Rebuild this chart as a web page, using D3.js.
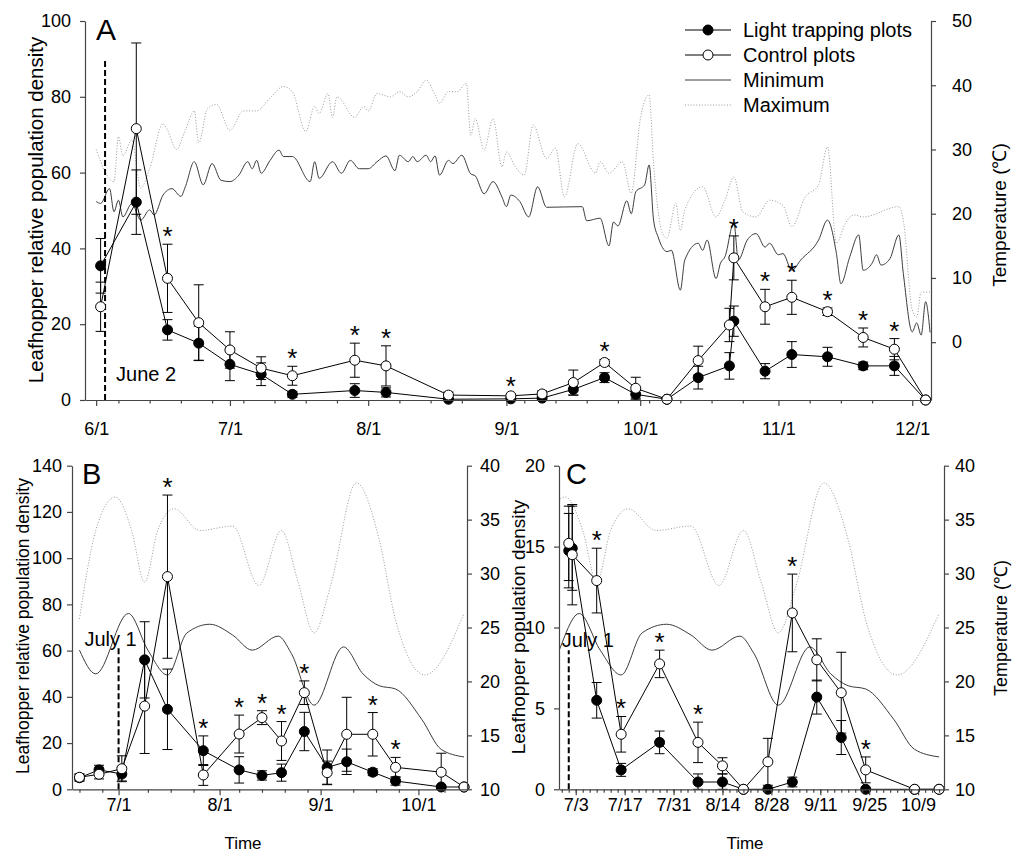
<!DOCTYPE html>
<html>
<head>
<meta charset="utf-8">
<script src="https://cdn.jsdelivr.net/npm/d3@7"></script>
<style>
  body { margin: 0; background: #fff; }
  svg text { font-family: "Liberation Sans", Arial, sans-serif; fill: #000; }
</style>
</head>
<body>
<svg id="chart" width="1019" height="852"></svg>
<script>
//*** Données panneau A (saison complète) ***************************************************/
const datesA = ["6/2","6/10","6/17","6/24","7/1","7/8","7/15","7/29","8/5","8/19","9/2","9/9","9/16",
  "9/23","9/30","10/7","10/14","10/21","10/22","10/29","11/4","11/12","11/20","11/27","12/4"];
const lightA = [35.4,52.2,18.5,15.0,9.4,6.8,1.5,2.5,2.0,0.2,0.3,0.5,2.8,5.9,1.5,0.2,5.9,9.0,20.8,7.6,12.0,11.4,9.0,9.0,0];
const lightErrA = [7.2,8.5,2.7,4.5,4.3,3.0,0.8,1.8,1.2,0.2,0.3,0.3,1.5,1.3,1.0,0,3.0,3.5,4.0,2.0,3.4,2.5,1.0,2.5,0];
const controlA = [24.6,71.6,32.1,20.4,13.2,8.4,6.4,10.5,9.0,1.3,1.1,1.6,4.6,9.9,3.1,0.2,10.4,19.8,37.5,24.6,27.1,23.3,16.5,13.4,0];
const controlErrA = [6.5,22.6,9.0,10.0,4.8,3.0,2.5,4.5,5.3,0.8,0.5,0.8,3.3,0.8,2.9,0,3.8,4.4,5.8,4.6,4.5,1.0,2.5,2.8,0];
const starsA = [0,0,1,0,0,0,1,1,1,0,1,0,0,1,0,0,0,0,1,1,1,1,1,1,0];

// températures journalières A
const maxDatesA = ["6/1","6/5","6/6","6/7","6/9","6/11","6/13","6/16","6/17","6/19","6/21","6/23","6/24","6/26","6/28",
  "7/1","7/4","7/7","7/10","7/13","7/15","7/18","7/20","7/21","7/23","7/24","7/25","7/29","7/31",
  "8/1","8/3","8/6","8/8","8/10","8/12","8/14","8/16","8/17","8/19","8/21","8/23","8/24","8/25","8/27","8/29","8/31",
  "9/1","9/3","9/5","9/7","9/10","9/12","9/14","9/17","9/21","9/22","9/24","9/27","9/29",
  "10/1","10/3","10/4","10/6","10/7","10/9","10/10","10/11","10/15","10/18","10/20","10/22","10/24","10/27","10/30",
  "11/2","11/4","11/7","11/10","11/12","11/14","11/16","11/18","11/20","11/23","11/25","11/28","11/29",
  "12/1","12/2","12/3","12/5"];
const maxTempA = [30,25,32,29,31.5,24,27,34,33,30,33,36,31,36.4,37,
  33,36,36,38,39.8,39,32.8,36.7,35.6,38.7,35,38.2,35,36.7,
  36,38.7,38.2,39,38.2,39,40.8,38.5,37.2,39,39,40.3,32.2,34.8,29.9,34.8,27.3,
  29.6,27.3,26.0,33.8,28.6,30.2,22.6,30.9,26.3,28.1,26.3,28.1,23.2,
  34.6,38.5,27.8,16.9,16.2,21.6,17.4,20.6,24.2,19.5,22.1,25.7,20.3,19.5,22.1,
  21.3,18.0,22.6,24.5,30.4,15.4,18.5,19.8,19.5,20.0,20.6,21.1,19.0,
  5.0,3.9,7.8,7.8];
const minDatesA = ["6/1","6/2","6/4","6/5","6/6","6/7","6/9","6/11","6/13","6/14","6/16","6/18","6/20","6/21","6/23","6/25","6/27","6/29",
  "7/1","7/3","7/5","7/6","7/7","7/8","7/10","7/12","7/13","7/15","7/19","7/20","7/21","7/24","7/26","7/28","7/30",
  "8/1","8/3","8/5","8/7","8/8","8/10","8/11","8/12","8/14","8/15","8/16","8/17","8/19","8/20","8/22","8/24","8/25","8/27","8/29","8/31",
  "9/1","9/2","9/4","9/6","9/8","9/10","9/18","9/19","9/22","9/24","9/25","9/26","9/28","9/29","9/30",
  "10/2","10/3","10/4","10/5","10/7","10/8","10/10","10/11","10/14","10/15","10/16","10/18","10/19","10/20","10/22","10/23","10/25","10/27","10/29","10/30",
  "11/1","11/2","11/4","11/6","11/10","11/12","11/14","11/15","11/17","11/19","11/20","11/22","11/23","11/24","11/26","11/28","11/29",
  "12/1","12/2","12/3","12/4","12/5"];
const minTempA = [21.9,21.6,23.9,20.3,22.1,19.5,21.6,19.0,20.6,19.8,22.9,23.9,22.7,24.2,28.1,24.5,27.8,25.2,
  25.0,26.0,28.1,27.0,28.3,26.3,28.3,29.9,28.9,28.9,25.0,28.1,25.5,28.1,26.3,28.3,27.0,
  27.0,28.1,29.0,26.7,29.1,28.1,28.9,28.1,29.1,28.1,29.0,26.0,28.3,27.8,29.1,26.2,25.9,23.1,25.0,22.6,
  21.1,22.9,21.9,19.5,24.2,21.0,21.1,18.9,19.3,15.0,18.7,18.1,22.0,20.0,23.4,
  24.5,27.6,19.0,16.4,14.1,14.3,8.1,12.8,15.4,14.3,15.9,9.9,12.3,13.3,18.6,12.8,15.9,16.9,14.8,15.4,
  13.6,13.8,11.2,12.8,15.9,19.0,13.8,9.1,13.3,16.7,11.2,12.3,13.6,12.0,13.0,16.7,10.7,
  1.6,3.0,1.1,6.3,1.5];

const majorTicksA = ["6/1","7/1","8/1","9/1","10/1","11/1","12/1"];
const minorTicksA = ["6/6","6/13","6/20","6/27","7/4","7/11","7/18","7/25","8/8","8/15","8/22","9/5","9/12","9/19",
  "9/26","10/3","10/10","10/17","10/24","11/8","11/15","11/22"];

//*** Données panneau B ***********************************************************************/
const datesB = ["6/19","6/25","7/2","7/9","7/16","7/27","8/7","8/14","8/20","8/27","9/3","9/9","9/17","9/24","10/8","10/15"];
const lightB = [5.0,8.4,6.6,56,34.6,16.7,8.4,6.0,7.2,25,9.5,11.9,7.4,3.6,1.0,1.0];
const lightErrB = [1.5,2,3,16.5,17.4,6.4,5.7,2,3.7,8.3,7.5,5.5,1.5,1.8,0.5,0.3];
const controlB = [5.2,6.5,8.9,36,92,6.2,23.9,31,20.9,41.8,7.2,23.8,23.8,9.5,7.4,1.0];
const controlErrB = [1.5,2,5.6,20.5,35.3,4.5,8.2,3,8.4,5.1,5,16,9.4,4.3,8.2,0.3];
const starsB = [0,0,0,0,1,1,1,1,1,1,0,0,1,1,0,0];
const majorTicksB = ["7/1","8/1","9/1","10/1"];
const minorTicksB = ["6/19","6/26","7/10","7/17","7/24","8/7","8/14","8/21","8/28","9/11","9/18","9/25","10/9"];

//*** Données panneau C ***********************************************************************/
const datesC = ["7/1","7/2","7/9","7/16","7/27","8/7","8/14","8/20","8/27","9/3","9/10","9/17","9/24","10/8","10/15"];
const lightC = [14.75,14.9,5.5,1.2,2.9,0.45,0.45,0,0,0.45,5.7,3.2,0,0,0];
const lightErrC = [2.3,2.6,1.1,0.4,0.7,0.5,0.5,0,0,0.3,1.05,1.05,0,0,0];
const controlC = [15.2,14.5,12.9,3.4,7.75,2.9,1.45,0,1.7,10.9,8.0,5.97,1.2,0,0];
const controlErrC = [2.3,3.1,2.0,1.1,0.85,1.25,0.5,0,1.45,2.4,1.3,2.5,0.8,0,0];
const starsC = [0,0,1,1,1,1,0,0,0,1,0,0,1,0,0];
const majorTicksC = ["7/3","7/17","7/31","8/14","8/28","9/11","9/25","10/9"];

// températures été (B et C, même station)
const maxDatesS = ["6/19","6/24","6/30","7/5","7/9","7/13","7/18","7/26","8/5","8/13","8/20","8/25","8/30","9/4","9/12","9/19","9/24","10/3","10/15"];
const maxTempS = [25.8,34.0,37.1,34.0,29.2,34.0,36.0,34.0,34.4,28.9,34.0,29.3,24.5,28.8,38.4,33.1,25.7,20.6,26.3];
const minDatesS = ["6/19","6/24","7/4","7/10","7/16","7/22","7/29","8/5","8/11","8/19","8/23","8/30","9/8","9/14","9/19","9/24","10/2","10/8","10/15"];
const minTempS = [22.9,20.7,26.3,22.9,20.6,24.5,25.3,24.3,22.9,24.2,22.6,17.8,23.2,20.7,19.6,19.3,16.5,13.7,13.0];

//*** Outils **********************************************************************************/
const parseDay = (s) => d3.timeParse("%Y/%m/%d")("2013/" + s);
const fmt = d3.timeFormat("%-m/%-d");
const svg = d3.select("#chart");

function styleAxe(sel, size) {
  sel.select(".domain").attr("stroke", "#454545").attr("stroke-width", 1.2);
  sel.selectAll(".tick line").attr("stroke", "#454545").attr("stroke-width", 1.2);
  sel.selectAll("text").attr("font-size", size).attr("font-family", "'Liberation Sans', Arial, sans-serif").attr("fill", "#000");
}

function panneau(p) {
  const g = svg.append("g");
  const x = d3.scaleTime().domain(p.xDomain).range([p.left, p.right]);
  const y = d3.scaleLinear().domain(p.yDomain).range([p.bottom, p.top]);
  const yT = d3.scaleLinear().domain(p.tDomain).range([p.bottom, p.top]);

  g.append("clipPath").attr("id", "clip" + p.nom)
    .append("rect")
    .attr("x", p.left).attr("y", p.top)
    .attr("width", p.right - p.left).attr("height", p.bottom - p.top);

  // températures
  const ligneT = d3.line().x((d) => x(d[0])).y((d) => yT(d[1])).curve(p.courbe);
  g.append("path")
    .datum(d3.zip(p.maxDates.map(parseDay), p.maxTemp))
    .attr("clip-path", `url(#clip${p.nom})`)
    .attr("d", ligneT)
    .attr("fill", "none").attr("stroke", "#999").attr("stroke-width", 1)
    .attr("stroke-dasharray", "1,1.8");
  g.append("path")
    .datum(d3.zip(p.minDates.map(parseDay), p.minTemp))
    .attr("clip-path", `url(#clip${p.nom})`)
    .attr("d", ligneT)
    .attr("fill", "none").attr("stroke", "#3c3c3c").attr("stroke-width", 1);

  // ligne verticale pointillée (début du piégeage)
  const xt = x(parseDay(p.tirets));
  g.append("line")
    .attr("x1", xt).attr("x2", xt)
    .attr("y1", y(0)).attr("y2", y(p.tiretsHaut))
    .attr("stroke", "#000").attr("stroke-width", 2).attr("stroke-dasharray", "6,3");
  g.append("text")
    .attr("x", xt + p.labelDx).attr("y", y(p.labelY))
    .attr("text-anchor", p.labelAnchor)
    .attr("font-size", 20)
    .text(p.label);

  const pts = p.dates.map((d, i) => ({
    date: parseDay(d),
    l: p.light[i], le: p.lightErr[i],
    c: p.control[i], ce: p.controlErr[i],
    star: p.stars[i],
  }));

  // barres d'erreur
  [["l", "le"], ["c", "ce"]].forEach(([k, ke]) => {
    const eb = g.append("g").selectAll("g")
      .data(pts.filter((d) => d[ke] > 0))
      .join("g")
      .attr("stroke", "#000").attr("stroke-width", 1);
    eb.append("line")
      .attr("x1", (d) => x(d.date)).attr("x2", (d) => x(d.date))
      .attr("y1", (d) => y(Math.max(0, d[k] - d[ke]))).attr("y2", (d) => y(d[k] + d[ke]));
    eb.append("line")
      .attr("x1", (d) => x(d.date) - 5).attr("x2", (d) => x(d.date) + 5)
      .attr("y1", (d) => y(d[k] + d[ke])).attr("y2", (d) => y(d[k] + d[ke]));
    eb.append("line")
      .attr("x1", (d) => x(d.date) - 5).attr("x2", (d) => x(d.date) + 5)
      .attr("y1", (d) => y(Math.max(0, d[k] - d[ke]))).attr("y2", (d) => y(Math.max(0, d[k] - d[ke])));
  });

  // lignes des deux séries
  ["l", "c"].forEach((k) => {
    g.append("path")
      .datum(pts)
      .attr("d", d3.line().x((d) => x(d.date)).y((d) => y(d[k])))
      .attr("fill", "none").attr("stroke", "#000").attr("stroke-width", 1);
  });

  // points
  g.append("g").selectAll("circle").data(pts).join("circle")
    .attr("cx", (d) => x(d.date)).attr("cy", (d) => y(d.l)).attr("r", 5)
    .attr("fill", "#000").attr("stroke", "#000");
  g.append("g").selectAll("circle").data(pts).join("circle")
    .attr("cx", (d) => x(d.date)).attr("cy", (d) => y(d.c)).attr("r", 5)
    .attr("fill", "#fff").attr("stroke", "#000").attr("stroke-width", 1);

  // étoiles de significativité
  g.append("g").selectAll("text").data(pts.filter((d) => d.star)).join("text")
    .attr("x", (d) => x(d.date))
    .attr("y", (d) => y(Math.max(d.l + d.le, d.c + d.ce)) + 1)
    .attr("text-anchor", "middle")
    .attr("font-size", 26)
    .text("*");

  // axes
  const axeX = g.append("g").attr("transform", `translate(0,${p.bottom})`)
    .call(d3.axisBottom(x).tickValues(p.majors.map(parseDay)).tickFormat(fmt)
      .tickSize(6).tickSizeOuter(0).tickPadding(p.xPad));
  styleAxe(axeX, 18);
  const axeMin = g.append("g").attr("transform", `translate(0,${p.bottom})`)
    .call(d3.axisBottom(x).tickValues(p.minors).tickFormat("").tickSize(3.5));
  axeMin.select(".domain").remove();
  styleAxe(axeMin, 18);

  const axeY = g.append("g").attr("transform", `translate(${p.left},0)`)
    .call(d3.axisLeft(y).tickValues(p.yTicks).tickSize(5).tickSizeOuter(0).tickPadding(p.yPad));
  styleAxe(axeY, 18);
  const axeT = g.append("g").attr("transform", `translate(${p.right},0)`)
    .call(d3.axisRight(yT).tickValues(p.tTicks).tickSize(5).tickSizeOuter(0).tickPadding(p.tPad));
  styleAxe(axeT, 18);

  // lettre du panneau
  g.append("text").attr("x", p.left + p.lettreDx).attr("y", p.top + p.lettreDy)
    .attr("font-size", p.lettreSize).text(p.nom);

  return { x, y, yT };
}

//*** Panneau A ******************************************************************************/
panneau({
  nom: "A", left: 85, right: 931, top: 21, bottom: 400,
  xDomain: [new Date(2013, 4, 29, 12), new Date(2013, 11, 5, 5)],
  yDomain: [0, 100], tDomain: [-9, 50],
  yTicks: d3.range(0, 101, 20), tTicks: d3.range(0, 51, 10),
  majors: majorTicksA, minors: minorTicksA.map(parseDay),
  xPad: 16, yPad: 9, tPad: 16,
  courbe: d3.curveMonotoneX,
  maxDates: maxDatesA, maxTemp: maxTempA, minDates: minDatesA, minTemp: minTempA,
  dates: datesA, light: lightA, lightErr: lightErrA, control: controlA, controlErr: controlErrA, stars: starsA,
  tirets: "6/3", tiretsHaut: 90, label: "June 2", labelDx: 11, labelY: 5, labelAnchor: "start",
  lettreDx: 11, lettreDy: 19, lettreSize: 30,
});

//*** Panneau B ******************************************************************************/
panneau({
  nom: "B", left: 72, right: 467, top: 465.7, bottom: 789.3,
  xDomain: [new Date(2013, 5, 16, 17), new Date(2013, 9, 15, 22)],
  yDomain: [0, 140], tDomain: [10, 40],
  yTicks: d3.range(0, 141, 20), tTicks: d3.range(10, 41, 5),
  majors: majorTicksB, minors: minorTicksB.map(parseDay),
  xPad: 3, yPad: 5, tPad: 8,
  courbe: d3.curveMonotoneX,
  maxDates: maxDatesS, maxTemp: maxTempS, minDates: minDatesS, minTemp: minTempS,
  dates: datesB, light: lightB, lightErr: lightErrB, control: controlB, controlErr: controlErrB, stars: starsB,
  tirets: "7/1", tiretsHaut: 61, label: "July 1", labelDx: -8, labelY: 62, labelAnchor: "middle",
  lettreDx: 10, lettreDy: 18, lettreSize: 29,
});

//*** Panneau C ******************************************************************************/
const startC = new Date(2013, 5, 28, 5), endC = new Date(2013, 9, 16, 10);
panneau({
  nom: "C", left: 559, right: 944, top: 465.7, bottom: 789.3,
  xDomain: [startC, endC],
  yDomain: [0, 20], tDomain: [10, 40],
  yTicks: d3.range(0, 21, 5), tTicks: d3.range(10, 41, 5),
  majors: majorTicksC, minors: d3.timeDay.range(parseDay("6/29"), endC, 2),
  xPad: 3, yPad: 9, tPad: 6,
  courbe: d3.curveMonotoneX,
  maxDates: maxDatesS, maxTemp: maxTempS, minDates: minDatesS, minTemp: minTempS,
  dates: datesC, light: lightC, lightErr: lightErrC, control: controlC, controlErr: controlErrC, stars: starsC,
  tirets: "7/1", tiretsHaut: 8.6, label: "July 1", labelDx: 19, labelY: 8.8, labelAnchor: "middle",
  lettreDx: 7, lettreDy: 18, lettreSize: 29,
});

//*** Titres des axes ************************************************************************/
const titre = (txt, x, y, size) =>
  svg.append("text")
    .attr("transform", `translate(${x},${y}) rotate(-90)`)
    .attr("text-anchor", "middle").attr("dominant-baseline", "central")
    .attr("font-size", size).text(txt);
titre("Leafhopper relative population density", 35, 210, 20.5);
titre("Temperature (\u2103)", 999, 215, 19);
titre("Leafhopper relative population density", 23, 626, 17.5);
titre("Leafhopper population density", 518, 627, 19);
titre("Temperature (\u2103)", 1001, 628, 18);

svg.append("text").attr("x", 243).attr("y", 849).attr("text-anchor", "middle").attr("font-size", 17).text("Time");
svg.append("text").attr("x", 745).attr("y", 849).attr("text-anchor", "middle").attr("font-size", 17).text("Time");

//*** Légende A ******************************************************************************/
const legende = [
  { nom: "Light trapping plots", type: "light" },
  { nom: "Control plots", type: "control" },
  { nom: "Minimum", type: "min" },
  { nom: "Maximum", type: "max" },
];
const leg = svg.append("g").selectAll("g").data(legende).join("g")
  .attr("transform", (d, i) => `translate(685,${30 + i * 25})`);
leg.append("line").attr("x1", 0).attr("x2", 46)
  .attr("stroke", (d) => (d.type === "max" ? "#999" : d.type === "min" ? "#3c3c3c" : "#000"))
  .attr("stroke-width", 1)
  .attr("stroke-dasharray", (d) => (d.type === "max" ? "1,1.8" : null));
leg.filter((d) => d.type === "light" || d.type === "control")
  .append("circle").attr("cx", 23).attr("r", 5)
  .attr("fill", (d) => (d.type === "light" ? "#000" : "#fff")).attr("stroke", "#000");
leg.append("text").attr("x", 58).attr("dominant-baseline", "central").attr("font-size", 20).text((d) => d.nom);
</script>
</body>
</html>
